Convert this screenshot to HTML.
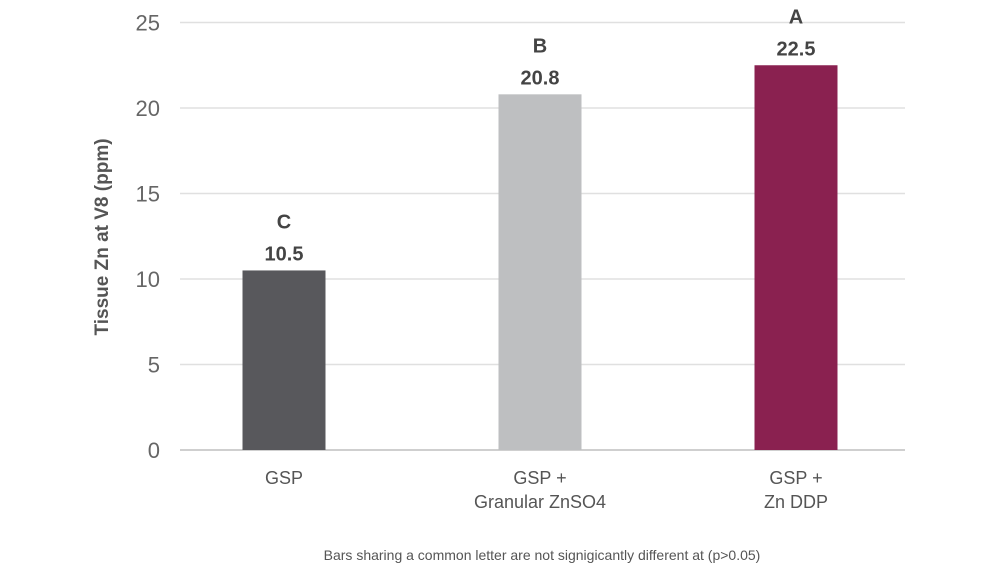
<!DOCTYPE html>
<html><head><meta charset="utf-8"><style>
body{margin:0;background:#fff;width:1000px;height:579px;overflow:hidden}
svg text{font-family:"Liberation Sans Narrow","Liberation Sans",sans-serif}
</style></head><body>
<svg id="chart" width="1000" height="579" xmlns="http://www.w3.org/2000/svg">
<g id="grid"></g>
<g id="yticks"></g>
<g id="bars"></g>
<g id="xlabels"></g>
<text transform="translate(108,237) rotate(-90)" text-anchor="middle" font-size="19" font-weight="bold" fill="#555">Tissue Zn at V8 (ppm)</text>
<text x="542" y="560" text-anchor="middle" font-size="14" fill="#555">Bars sharing a common letter are not signigicantly different at (p&gt;0.05)</text>
</svg>
<script>
const categories=[["GSP"],["GSP +","Granular ZnSO4"],["GSP +","Zn DDP"]];
const values=[10.5,20.8,22.5];
const letters=["C","B","A"];
const yTicks=[0,5,10,15,20,25];
const colors=["#58585c","#bebfc1","#8a2150"];
const NS="http://www.w3.org/2000/svg";
const y=v=>450-v*17.1;
const x=i=>156+256*i+128;
const bw=83;
function mk(tag,attrs,parent,txt){const e=document.createElementNS(NS,tag);for(const k in attrs)e.setAttribute(k,attrs[k]);if(txt!==undefined)e.textContent=txt;parent.appendChild(e);return e;}
const grid=document.getElementById('grid'),yt=document.getElementById('yticks'),bars=document.getElementById('bars'),xl=document.getElementById('xlabels');
yTicks.forEach(t=>{
 const l=mk('line',{x1:180,x2:905,y1:y(t),y2:y(t),stroke:t===0?'#cfcfcf':'#e0e0e0','stroke-width':t===0?2:1.5},grid);
 
 
 const tx=mk('text',{x:160,y:y(t)+8,'text-anchor':'end','font-size':22,fill:'#666'},yt,String(t));
 
 
});
values.forEach((v,i)=>{
 const r=mk('rect',{x:x(i)-bw/2,y:y(v),width:bw,height:y(0)-y(v),fill:colors[i]},bars);
 
 
 const vt=mk('text',{x:x(i),y:y(v)-10,'text-anchor':'middle','font-size':20,'font-weight':'bold',fill:'#444'},bars,v.toFixed(1));
 
 
 const lt=mk('text',{x:x(i),y:y(v)-42,'text-anchor':'middle','font-size':20,'font-weight':'bold',fill:'#444'},bars,letters[i]);
 
 
 categories[i].forEach((s,j)=>{
  const c=mk('text',{x:x(i),y:484+j*24,'text-anchor':'middle','font-size':18,fill:'#555'},xl,s);
  
  
 });
});
</script>
</body></html>
